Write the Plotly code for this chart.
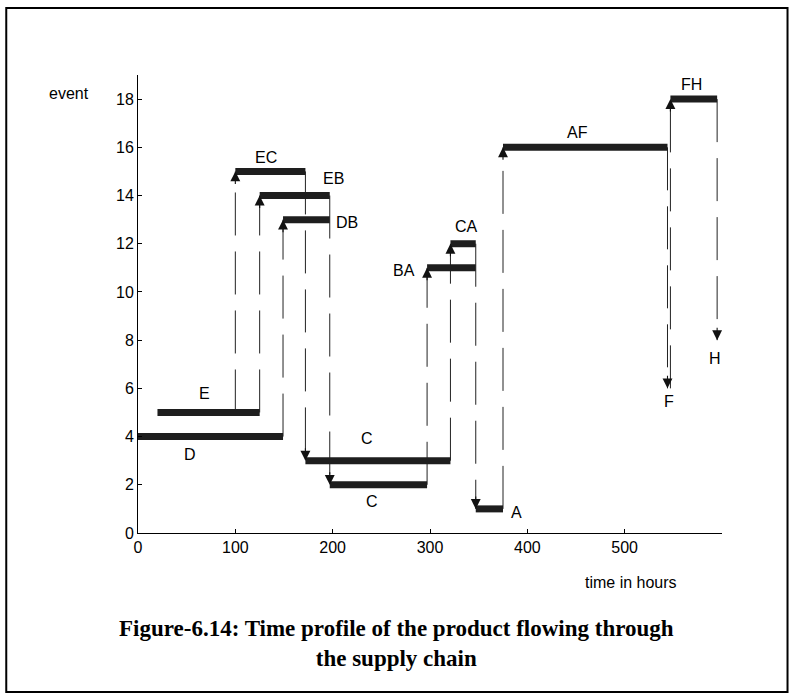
import plotly.graph_objects as go

# horizontal bars: one per stage, at its event level
bar_event = [4, 5, 15, 14, 13, 3, 2, 11, 12, 1, 16, 18]
bar_start = [0, 20, 100, 125, 149, 172, 197, 297, 321, 347, 375, 547]
bar_end = [149, 125, 172, 197, 197, 321, 297, 347, 347, 375, 544, 595]

# dashed transitions with an arrow at the "to" end
move_x = [100, 125, 149, 172, 197, 297, 321, 347, 375, 544, 547, 595]
move_from = [5, 5, 4, 15, 14, 2, 3, 12, 1, 16, 6, 18]
move_to = [15, 14, 13, 3, 2, 11, 12, 1, 16, 6, 18, 8]

# stage names and where they sit on the chart
label_text = ["D", "E", "EC", "EB", "DB", "C", "C", "BA", "CA", "A", "AF", "FH", "F", "H"]
label_x = [53, 68, 132, 201, 215, 235, 240, 273, 338, 389, 452, 569, 546, 593]
label_y = [3.24, 5.77, 15.56, 14.69, 12.9, 3.94, 1.29, 10.9, 12.7, 0.87, 16.6, 18.6, 5.44, 7.26]

x_ticks = [0, 100, 200, 300, 400, 500]
y_ticks = [0, 2, 4, 6, 8, 10, 12, 14, 16, 18]

FONT = "Arial, Liberation Sans, sans-serif"

fig = go.Figure()

for x, y0, y1 in zip(move_x, move_from, move_to):
    fig.add_trace(go.Scatter(
        x=[x, x], y=[y0, y1], mode="lines",
        line=dict(color="#222", width=1, dash="43px,16px"),
        hoverinfo="skip", showlegend=False))
    fig.add_annotation(
        x=x, y=y1, xref="x", yref="y", text="",
        showarrow=True, ax=0, ay=14 if y1 > y0 else -14,
        arrowhead=2, arrowsize=1.8, arrowwidth=1.1, arrowcolor="#111",
        standoff=0)

for y, x0, x1 in zip(bar_event, bar_start, bar_end):
    fig.add_trace(go.Scatter(
        x=[x0, x1], y=[y, y], mode="lines",
        line=dict(color="#1e1e1e", width=7),
        hoverinfo="skip", showlegend=False))

for t, x, y in zip(label_text, label_x, label_y):
    fig.add_annotation(x=x, y=y, xref="x", yref="y", text=t, showarrow=False,
                       font=dict(family=FONT, size=16, color="black"))

# plot area spans 137.7..721.5 px horizontally and 75..533 px vertically
PW, PH, L, B = 583.8, 458.0, 137.7, 533.0


def px(xp):
    return (xp - L) / PW


def py(yp):
    return (B - yp) / PH


def note(xp, yp, text, font):
    fig.add_annotation(x=px(xp), y=py(yp), xref="paper", yref="paper", text=text,
                       showarrow=False, xanchor="center", yanchor="middle",
                       align="center", font=font)


note(69, 93, "event", dict(family=FONT, size=16, color="black"))
note(631, 582, "time in hours", dict(family=FONT, size=16, color="black"))
note(396, 643,
     "<b>Figure-6.14: Time profile of the product flowing through<br>the supply chain</b>",
     dict(family="Liberation Serif, Times New Roman, serif", size=23, color="black"))

# outer frame of the figure
fig.add_shape(type="rect", xref="paper", yref="paper",
              x0=px(6), x1=px(787), y0=py(692), y1=py(8),
              line=dict(color="black", width=2))

axis_style = dict(showline=True, linecolor="black", linewidth=1, ticks="inside",
                  ticklen=4, tickcolor="black", showgrid=False, zeroline=False,
                  tickfont=dict(family=FONT, size=16, color="black"))
fig.update_xaxes(range=[0, 600], tickvals=x_ticks, **axis_style)
fig.update_yaxes(range=[0, 19], tickvals=y_ticks, **axis_style)

fig.update_layout(
    width=793, height=700,
    margin=dict(l=138, r=71, t=75, b=167),
    paper_bgcolor="white", plot_bgcolor="white",
    showlegend=False)

fig.write_html("out.html", config={"displayModeBar": False},
               post_script="document.body.style.margin='0';")
